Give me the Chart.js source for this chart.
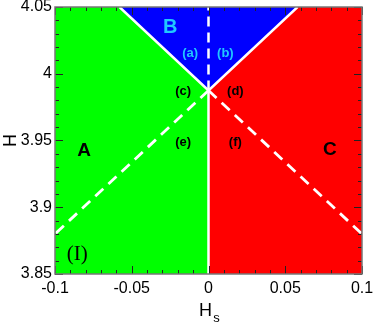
<!DOCTYPE html>
<html>
<head>
<meta charset="utf-8">
<script src="https://cdn.jsdelivr.net/npm/chart.js@4.4.1/dist/chart.umd.min.js"></script>
<style>
  html, body { margin: 0; padding: 0; background: #fff; }
  #wrap { width: 373px; height: 326px; }
</style>
</head>
<body>
<div id="wrap"><canvas id="phase" width="373" height="326"></canvas></div>
<script>
// axis ranges and ticks
const hsMin = -0.1, hsMax = 0.1;
const hMin = 3.85, hMax = 4.05;
const xTicks = [-0.1, -0.05, 0, 0.05, 0.1];
const xTickLabels = ['-0.1', '-0.05', '0', '0.05', '0.1'];
const yTicks = [3.85, 3.9, 3.95, 4, 4.05];
const yTickLabels = ['3.85', '3.9', '3.95', '4', '4.05'];

// phase boundaries
const vertexHs = 0, vertexH = 3.9875;
const blueHs = [-0.058, 0, 0.058];
const blueH = [4.05, 3.9875, 4.05];
const dashLeftHs = [0, -0.1];
const dashLeftH = [3.9875, 3.88];
const dashRightHs = [0, 0.1];
const dashRightH = [3.9875, 3.88];

// region labels: text, Hs, H
const regionText = ['A', 'B', 'C', '(a)', '(b)', '(c)', '(d)', '(e)', '(f)', '(I)'];
const regionHs = [-0.081, -0.025, 0.079, -0.012, 0.011, -0.0165, 0.0175, -0.0165, 0.0175, -0.0855];
const regionH = [3.942, 4.035, 3.943, 4.0155, 4.0155, 3.987, 3.987, 3.9485, 3.9485, 3.8645];

function pts(xs, ys) { return xs.map((x, i) => ({ x: x, y: ys[i] })); }

const labelStyle = {
    'A': { font: 'bold 19px "Liberation Sans", Arial, sans-serif', color: '#000' },
    'B': { font: 'bold 20px "Liberation Sans", Arial, sans-serif', color: '#20c8ff' },
    'C': { font: 'bold 19px "Liberation Sans", Arial, sans-serif', color: '#000' },
    '(a)': { font: 'bold 13px "Liberation Sans", Arial, sans-serif', color: '#20c8ff' },
    '(b)': { font: 'bold 13px "Liberation Sans", Arial, sans-serif', color: '#20c8ff' },
    '(I)': { font: '21px "Liberation Serif", "Times New Roman", serif', color: '#000' }
};
const defaultLabel = { font: 'bold 13px "Liberation Sans", Arial, sans-serif', color: '#000' };

const framePlugin = {
    id: 'frame',
    afterDatasetsDraw(chart) {
        const ctx = chart.ctx;
        const a = chart.chartArea;
        const xs = chart.scales.x, ys = chart.scales.y;
        ctx.save();

        // region labels
        ctx.textAlign = 'center';
        ctx.textBaseline = 'middle';
        regionText.forEach((t, i) => {
            const st = labelStyle[t] || defaultLabel;
            ctx.font = st.font;
            ctx.fillStyle = st.color;
            ctx.fillText(t, xs.getPixelForValue(regionHs[i]), ys.getPixelForValue(regionH[i]));
        });

        // tick marks pointing inward on all four sides
        ctx.strokeStyle = '#222';
        ctx.lineWidth = 1;
        ctx.beginPath();
        for (let k = 0; k <= 20; k++) {
            const v = hsMin + k * 0.01;
            const px = Math.round(xs.getPixelForValue(v)) + 0.5;
            const len = (k % 5 === 0) ? 8 : 4;
            ctx.moveTo(px, a.bottom); ctx.lineTo(px, a.bottom - len);
            ctx.moveTo(px, a.top); ctx.lineTo(px, a.top + len);
        }
        for (let k = 0; k <= 20; k++) {
            const v = hMin + k * 0.01;
            const py = Math.round(ys.getPixelForValue(v)) + 0.5;
            const len = (k % 5 === 0) ? 8 : 4;
            ctx.moveTo(a.left, py); ctx.lineTo(a.left + len, py);
            ctx.moveTo(a.right, py); ctx.lineTo(a.right - len, py);
        }
        ctx.stroke();

        // frame
        ctx.strokeStyle = '#777';
        ctx.lineWidth = 1.5;
        ctx.strokeRect(a.left, a.top, a.right - a.left, a.bottom - a.top);

        // axis titles
        ctx.fillStyle = '#000';
        ctx.font = '18px "Liberation Sans", Arial, sans-serif';
        ctx.textAlign = 'center';
        ctx.textBaseline = 'alphabetic';
        const cx = (a.left + a.right) / 2;
        ctx.fillText('H', cx - 3, 316);
        ctx.font = '13px "Liberation Sans", Arial, sans-serif';
        ctx.fillText('s', cx + 8, 322);
        ctx.translate(16, (a.top + a.bottom) / 2);
        ctx.rotate(-Math.PI / 2);
        ctx.font = '18px "Liberation Sans", Arial, sans-serif';
        ctx.fillText('H', 0, 0);
        ctx.restore();
    }
};

function noPad(s) {
    s.paddingTop = 0; s.paddingBottom = 0; s.paddingLeft = 0; s.paddingRight = 0;
}

const ctx = document.getElementById('phase').getContext('2d');
new Chart(ctx, {
    type: 'scatter',
    data: {
        datasets: [{
            // region A
            data: pts([hsMin, vertexHs], [hMax, hMax]),
            showLine: true, fill: 'start', borderWidth: 0, pointRadius: 0,
            backgroundColor: '#00ff00', order: 10
        }, {
            // region C
            data: pts([vertexHs, hsMax], [hMax, hMax]),
            showLine: true, fill: 'start', borderWidth: 0, pointRadius: 0,
            backgroundColor: '#ff0000', order: 9
        }, {
            // region B
            data: pts(blueHs, blueH),
            showLine: true, fill: 'end', borderColor: '#ffffff', borderWidth: 2.5,
            pointRadius: 0, backgroundColor: '#0000ff', order: 8
        }, {
            // solid A|C boundary
            data: pts([vertexHs, vertexHs], [vertexH, hMin]),
            showLine: true, fill: false, borderColor: '#ffffff', borderWidth: 2.5,
            pointRadius: 0, order: 5
        }, {
            data: pts([vertexHs, vertexHs], [vertexH, hMax]),
            showLine: true, fill: false, borderColor: '#ffffff', borderWidth: 2.5,
            borderDash: [10, 6], pointRadius: 0, order: 4
        }, {
            data: pts(dashLeftHs, dashLeftH),
            showLine: true, fill: false, borderColor: '#ffffff', borderWidth: 2.8,
            borderDash: [11, 7], pointRadius: 0, order: 3
        }, {
            data: pts(dashRightHs, dashRightH),
            showLine: true, fill: false, borderColor: '#ffffff', borderWidth: 2.8,
            borderDash: [11, 7], pointRadius: 0, order: 2
        }]
    },
    options: {
        responsive: false,
        animation: false,
        layout: { padding: { top: 7, right: 11, left: 0, bottom: 0 } },
        plugins: { legend: { display: false }, tooltip: { enabled: false } },
        scales: {
            x: {
                type: 'linear', min: hsMin, max: hsMax,
                afterBuildTicks: (s) => { s.ticks = xTicks.map(v => ({ value: v })); },
                afterFit: (s) => { s.height = 52; noPad(s); },
                ticks: {
                    color: '#000', padding: 5,
                    font: { family: '"Liberation Sans", Arial, sans-serif', size: 16 },
                    callback: (v, i) => xTickLabels[i]
                },
                grid: { display: false, drawTicks: false },
                border: { display: false }
            },
            y: {
                type: 'linear', min: hMin, max: hMax,
                afterBuildTicks: (s) => { s.ticks = yTicks.map(v => ({ value: v })); },
                afterFit: (s) => { s.width = 55; noPad(s); },
                ticks: {
                    color: '#000', padding: 3,
                    font: { family: '"Liberation Sans", Arial, sans-serif', size: 16 },
                    callback: (v, i) => yTickLabels[i]
                },
                grid: { display: false, drawTicks: false },
                border: { display: false }
            }
        }
    },
    plugins: [framePlugin]
});
</script>
</body>
</html>
